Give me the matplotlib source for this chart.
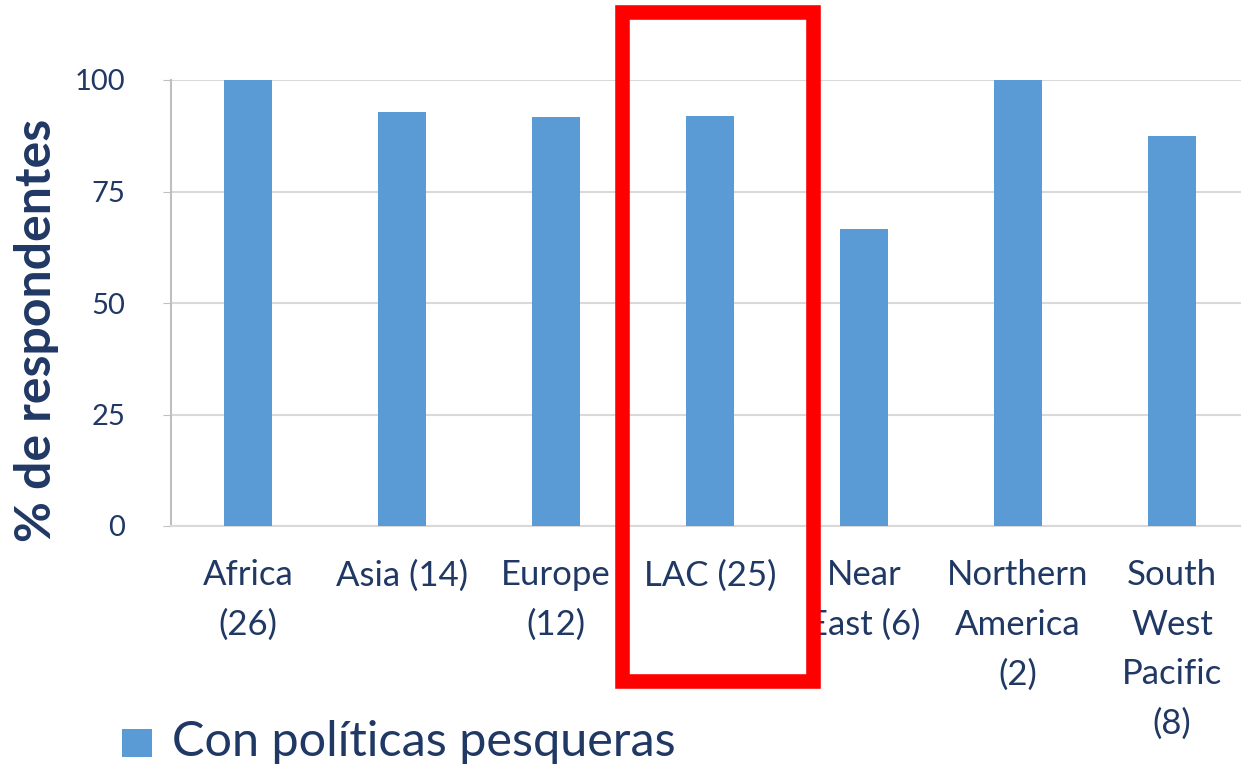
import matplotlib.pyplot as plt
from matplotlib.patches import Rectangle

# data
regions = ["Africa\n(26)", "Asia (14)", "Europe\n(12)", "LAC (25)",
           "Near\nEast (6)", "Northern\nAmerica\n(2)", "South\nWest\nPacific\n(8)"]
pct = [100, 92.9, 91.7, 92.0, 66.7, 100, 87.5]
yticks = [0, 25, 50, 75, 100]

navy = "#203864"
blue = "#5B9BD5"
plt.rcParams['font.family'] = ['Lato', 'DejaVu Sans']

fig = plt.figure(figsize=(12.41, 7.64), dpi=100)
ax = fig.add_axes([171 / 1241, 1 - 526 / 764, 1078 / 1241, 446 / 764])

x = range(len(regions))
ax.bar(x, pct, width=0.31, color=blue, zorder=3)

ax.set_xlim(-0.5, len(regions) - 0.5)
ax.set_ylim(0, 100)
ax.set_yticks(yticks)
ax.set_yticklabels([str(t) for t in yticks], fontsize=21, color=navy)
ax.set_xticks(list(x))
ax.set_xticklabels(regions, fontsize=25, color=navy, linespacing=1.67, va="top")
ax.tick_params(axis="x", length=0, pad=24)
ax.tick_params(axis="y", length=6, color="#BFBFBF", pad=27)
ax.grid(axis="y", color="#D9D9D9", linewidth=1.5, zorder=0)
for s in ["top", "right"]:
    ax.spines[s].set_visible(False)
ax.spines["left"].set_color("#BFBFBF")
ax.spines["bottom"].set_color("#D9D9D9")
ax.spines["left"].set_linewidth(1.5)
ax.spines["bottom"].set_linewidth(1.5)

# axis title placed in figure coords
fig.text(37 / 1241, 1 - 330 / 764, "% de respondentes", rotation=90, fontsize=36,
         fontweight="bold", color=navy, ha="center", va="center")

# white inside the highlight box hides gridlines behind bars
fig.patches.append(Rectangle((622 / 1241, 1 - 681 / 764), 191 / 1241, 669 / 764,
                             transform=fig.transFigure, facecolor="white",
                             edgecolor="none", zorder=0.5))
ax.set_zorder(1)
ax.patch.set_alpha(0)
box = Rectangle((622 / 1241, 1 - 681 / 764), 191 / 1241, 669 / 764,
                transform=fig.transFigure, fill=False, edgecolor="#FF0000",
                linewidth=10.5, zorder=10)
fig.add_artist(box)

# legend
fig.patches.append(Rectangle((122 / 1241, 1 - 757 / 764), 30 / 1241, 28 / 764,
                             transform=fig.transFigure, facecolor=blue, edgecolor="none"))
fig.text(172 / 1241, 1 - 742 / 764, "Con políticas pesqueras", fontsize=35,
         color=navy, va="center", ha="left")

fig.savefig("out.png", dpi=100)
